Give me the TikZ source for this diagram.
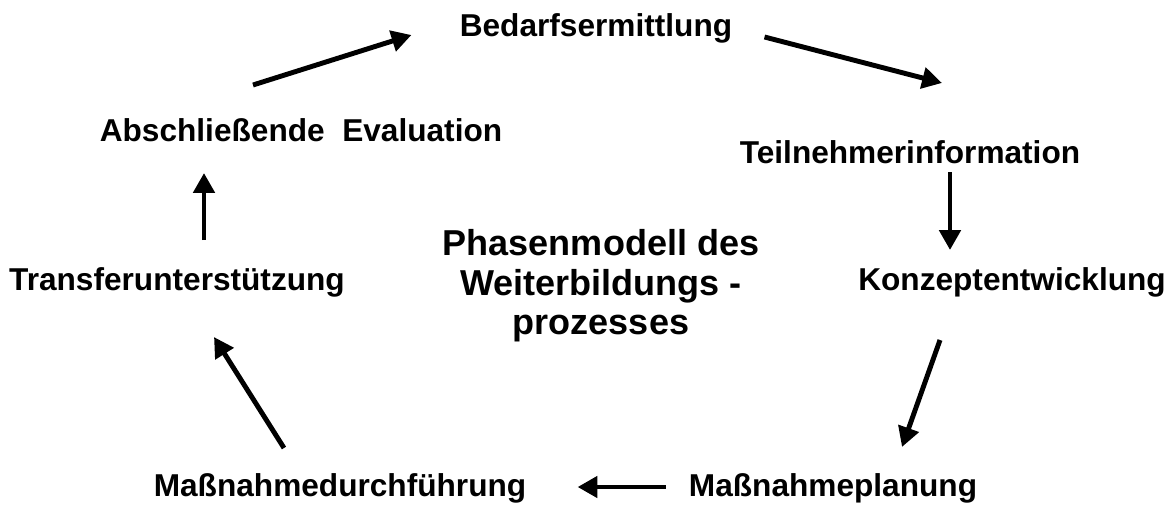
\documentclass[tikz,border=0pt]{standalone}
\usepackage{fontspec}
\setmainfont{Liberation Sans}
\usetikzlibrary{arrows.meta,calc}

\begin{document}
\begin{tikzpicture}[x=0.02cm,y=-0.02cm,
    phase/.style={font=\fontsize{18}{20}\selectfont\bfseries, inner sep=0pt, anchor=base},
    flow/.style={line width=2.8pt, -{Triangle[length=11.3pt,width=11.9pt]}}]

    % Canvas
    \useasboundingbox (0,0) rectangle (1176,504);

    % Phases of the cycle
    \node[phase] (bedarf)   at (596,36)  {Bedarfsermittlung};
    \node[phase] (teiln)    at (910,163) {Teilnehmerinformation};
    \node[phase] (konzept)  at (1012,290) {Konzeptentwicklung};
    \node[phase] (planung)  at (833,496) {Maßnahmeplanung};
    \node[phase] (durchf)   at (340,496) {Maßnahmedurchführung};
    \node[phase] (transfer) at (177,290) {Transferunterstützung};
    \node[phase] (eval)     at (301,141) {Abschließende\ \ Evaluation};

    % Title in the middle
    \node[font=\fontsize{20.5}{22.4}\selectfont\bfseries, align=center, inner sep=0pt]
        (titel) at (601,286) {Phasenmodell des\\ Weiterbildungs -\\ prozesses};

    % Arrows between the phases
    \draw[flow] ($(eval.base)+(-48,-56)$) -- ($(bedarf.base west)+(-48,-1)$);
    \draw[flow] ($(bedarf.base east)+(32,1)$) -- ($(teiln.base)+(32,-80)$);
    \draw[flow] ($(teiln.base)+(40,9)$) -- ($(konzept.base)+(-62,-40)$);
    \draw[flow] ($(konzept.base)+(-72,50)$) -- ($(planung.base)+(69,-49)$);
    \draw[flow] ($(planung.base west)+(-23,-9)$) -- ($(durchf.base east)+(51,-9)$);
    \draw[flow] ($(durchf.base)+(-56,-48)$) -- ($(transfer.base)+(37,47)$);
    \draw[flow] ($(transfer.base)+(27,-50)$) -- ($(eval.base)+(-97,32)$);

\end{tikzpicture}
\end{document}
